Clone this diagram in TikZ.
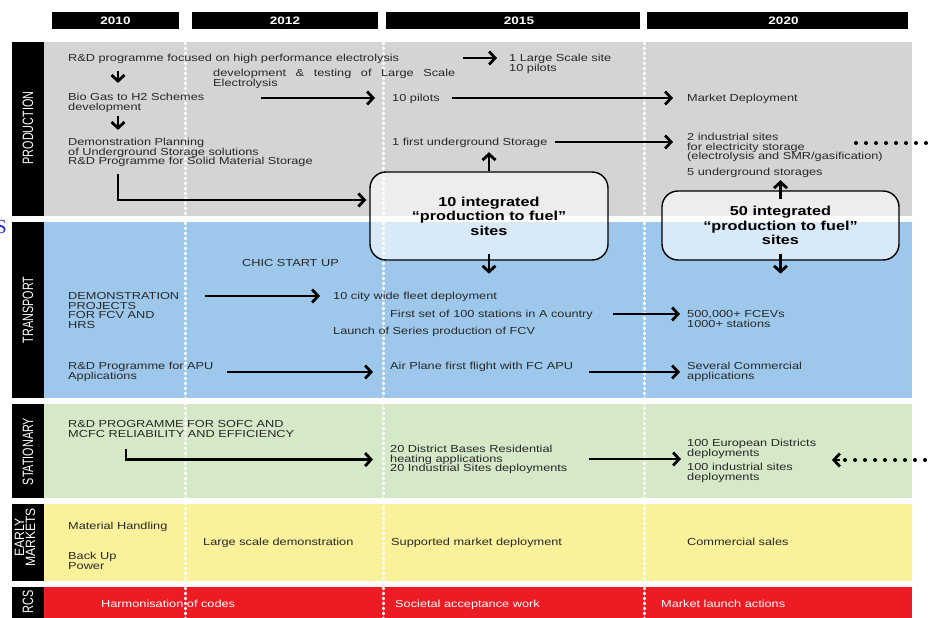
\documentclass[tikz,border=0pt]{standalone}
\usepackage{fontspec}
\setmainfont{Liberation Sans}[FakeStretch=1.25]
\newfontfamily\labelfont{Liberation Sans}[FakeStretch=0.72]
\newfontfamily\labelfontb{Liberation Sans}[FakeStretch=0.9]
\newfontfamily\serifart{Liberation Serif}
\usetikzlibrary{arrows.meta}

\definecolor{prodgray}{RGB}{212,212,212}
\definecolor{transblue}{RGB}{158,200,235}
\definecolor{statgreen}{RGB}{213,232,200}
\definecolor{earlyyellow}{RGB}{250,241,155}
\definecolor{rcsred}{RGB}{237,28,36}
\definecolor{txt}{RGB}{40,40,40}
\definecolor{artblue}{RGB}{40,40,215}

\begin{document}
\begin{tikzpicture}[x=1pt,y=-1pt,
  % text nodes are placed by the baseline of their last line
  txt/.style={anchor=base west, inner sep=0pt, align=left,
    font=\fontsize{10.2}{9.7}\selectfont, text=txt},
  rcstxt/.style={txt, text=white},
  yearbar/.style={fill=black, text=white, inner sep=0pt,
    font=\bfseries\fontsize{10.8}{12}\selectfont, minimum height=17pt},
  rowlabel/.style={rotate=90, text=white, inner sep=0pt,
    font=\labelfont\fontsize{15}{11}\selectfont},
  divider/.style={white, line width=3pt, line cap=round,
    dash pattern=on 0.8pt off 4.2pt},
  dots/.style={black, line width=4pt, line cap=round,
    dash pattern=on 0pt off 10pt},
  arr/.style={line width=2.8pt, -{Straight Barb[length=6pt,width=13pt]}},
  bigbox/.style={draw=black, line width=1.4pt, rounded corners=16pt,
    fill=white, fill opacity=0.6, text opacity=1, align=center,
    inner sep=0pt, font=\bfseries\fontsize{13}{14.5}\selectfont},
]
\useasboundingbox (0,0) rectangle (930,618);
\fill[white] (0,0) rectangle (930,618);

% year header bars
\node[yearbar, minimum width=127pt] (y2010) at (115.5,20.5) {2010};
\node[yearbar, minimum width=186pt] (y2012) at (285,20.5) {2012};
\node[yearbar, minimum width=254pt] (y2015) at (513,20.5) {\hspace*{12pt}2015};
\node[yearbar, minimum width=261pt] (y2020) at (777.5,20.5) {\hspace*{12pt}2020};

% row bands with their black label strips
\fill[prodgray] (44,42) rectangle (912,216);
\fill[black] (12,42) rectangle (44,216);
\fill[transblue] (44,222) rectangle (912,398);
\fill[black] (12,222) rectangle (44,398);
\fill[statgreen] (44,404) rectangle (912,498);
\fill[black] (12,404) rectangle (44,498);
\fill[earlyyellow] (44,504) rectangle (912,581);
\fill[black] (12,504) rectangle (44,581);
\fill[rcsred] (44,587) rectangle (912,618);
\fill[black] (12,587) rectangle (44,618);

% stray glyph at the left edge
\node[anchor=east, inner sep=0pt, text=artblue,
  font=\serifart\fontsize{20}{20}\selectfont] (edgeS) at (7,227) {S};

% white dotted period dividers
\foreach \x in {185,383,644} \draw[divider] (\x,43) -- (\x,618);

% row labels
\node[rowlabel] (lprod) at (28,128) {PRODUCTION};
\node[rowlabel] (ltrans) at (28,310) {TRANSPORT};
\node[rowlabel] (lstat) at (28,451.5) {STATIONARY};
\node[rowlabel, align=center, font=\labelfontb\fontsize{13.5}{11}\selectfont]
  (learly) at (25,537.5) {EARLY\\MARKETS};
\node[rowlabel] (lrcs) at (28,602) {RCS};

% ---------- production ----------
\node[txt] (p1) at (68,61.5) {R\&D programme focused on high performance electrolysis};
\node[txt] (p2) at (213,86.2) {\makebox[242pt][s]{development \& testing of Large Scale}\\Electrolysis};
\node[txt] (p3) at (68,110.7) {Bio Gas to H2 Schemes\\development};
\node[txt] (p4) at (68,164.9) {Demonstration Planning\\of Underground Storage solutions\\R\&D Programme for Solid Material Storage};
\node[txt] (p5) at (509,71.2) {1 Large Scale site\\10 pilots};
\node[txt] (p6) at (392,101.5) {10 pilots};
\node[txt] (p7) at (392,145.5) {1 first underground Storage};
\node[txt] (p8) at (687,101.5) {Market Deployment};
\node[txt] (p9) at (687,159.9) {2 industrial sites\\for electricity storage\\(electrolysis and SMR/gasification)};
\node[txt] (p10) at (687,175.5) {5 underground storages};

% ---------- transport ----------
\node[txt] (t1) at (242,266.5) {CHIC START UP};
\node[txt] (t2) at (68,328.6) {DEMONSTRATION\\PROJECTS\\FOR FCV AND\\HRS};
\node[txt] (t3) at (333,299.5) {10 city wide fleet deployment};
\node[txt] (t4) at (390,317.5) {First set of 100 stations in A country};
\node[txt] (t5) at (333,334.5) {Launch of Series production of FCV};
\node[txt] (t6) at (687,327.2) {500,000+ FCEVs\\1000+ stations};
\node[txt] (t7) at (68,379.2) {R\&D Programme for APU\\Applications};
\node[txt] (t8) at (390,369.5) {Air Plane first flight with FC APU};
\node[txt] (t9) at (687,379.2) {Several Commercial\\applications};

% ---------- stationary ----------
\node[txt] (s1) at (68,437.2) {R\&D PROGRAMME FOR SOFC AND\\MCFC RELIABILITY AND EFFICIENCY};
\node[txt] (s2) at (390,471.9) {20 District Bases Residential\\heating applications\\20 Industrial Sites deployments};
\node[txt] (s3) at (687,456.2) {100 European Districts\\deployments};
\node[txt] (s4) at (687,480.2) {100 industrial sites\\deployments};

% ---------- early markets ----------
\node[txt] (e1) at (68,529.5) {Material Handling};
\node[txt] (e2) at (68,569.2) {Back Up\\Power};
\node[txt] (e3) at (203,545.5) {Large scale demonstration};
\node[txt] (e4) at (391,545.5) {Supported market deployment};
\node[txt] (e5) at (687,545.5) {Commercial sales};

% ---------- RCS ----------
\node[rcstxt] (r1) at (101,607.5) {Harmonisation of codes};
\node[rcstxt] (r2) at (395,607.5) {Societal acceptance work};
\node[rcstxt] (r3) at (661,607.5) {Market launch actions};

% integrated sites boxes
\node[bigbox, minimum width=238pt, minimum height=88pt] (box1) at (489,216)
  {10 integrated\\“production to fuel”\\sites};
\node[bigbox, minimum width=237pt, minimum height=69pt] (box2) at (780.5,225.5)
  {50 integrated\\“production to fuel”\\sites};

% production arrows
\coordinate (d1) at (118,71);
\draw[arr, shorten >=10.5pt] (d1) -- (d1 |- p3.north);
\coordinate (d2) at (118,116);
\draw[arr, shorten >=8pt] (d2) -- (d2 |- p4.north);
\coordinate (a1) at (463,58);
\draw[arr, shorten >=12pt] (a1) -- (a1 -| p5.west);
\coordinate (a2) at (261,98);
\draw[arr, shorten >=17pt] (a2) -- (a2 -| p6.west);
\coordinate (a3) at (452,98);
\draw[arr, shorten >=14pt] (a3) -- (a3 -| p8.west);
\coordinate (a4) at (555,142);
\draw[arr, shorten >=14pt] (a4) -- (a4 -| p9.west);
\coordinate (a5) at (118,174);
\draw[arr, shorten >=3pt] (a5) |- ([yshift=16pt]box1.west);
\draw[arr, shorten >=4.4pt] (box1.north) -- (box1.north |- p7.south);
\draw[arr] ([yshift=7pt]box1.south) -- ([yshift=-13pt]box1.south);
\draw[arr, shorten >=2.4pt] ([yshift=-9pt]box2.north) -- (box2.north |- p10.south);
\draw[arr] ([yshift=7pt]box2.south) -- ([yshift=-13pt]box2.south);
\coordinate (pdots) at (856,143);
\draw[dots] (pdots) -- ++(74,0);

% transport arrows
\coordinate (b1) at (205,296);
\draw[arr, shorten >=13pt] (b1) -- (b1 -| t3.west);
\coordinate (b2) at (613,314);
\draw[arr, shorten >=7pt] (b2) -- (b2 -| t6.west);
\coordinate (b3) at (227,372);
\draw[arr, shorten >=17pt] (b3) -- (b3 -| t8.west);
\coordinate (b4) at (589,372);
\draw[arr, shorten >=7pt] (b4) -- (b4 -| t9.west);

% stationary arrows
\coordinate (c1) at (126,449);
\draw[arr, shorten >=17pt] (c1) |- (s2.west);
\coordinate (c2) at (589,459);
\draw[arr, shorten >=6pt] (c2) -- (c2 -| s3.west);
% dotted lead-in from the right edge, pointing left
\coordinate (ctip) at (832,460);
\draw[dots] ([xshift=13pt]ctip) -- ++(85,0);
\draw[arr] ([xshift=8pt]ctip) -- (ctip);
\end{tikzpicture}
\end{document}
